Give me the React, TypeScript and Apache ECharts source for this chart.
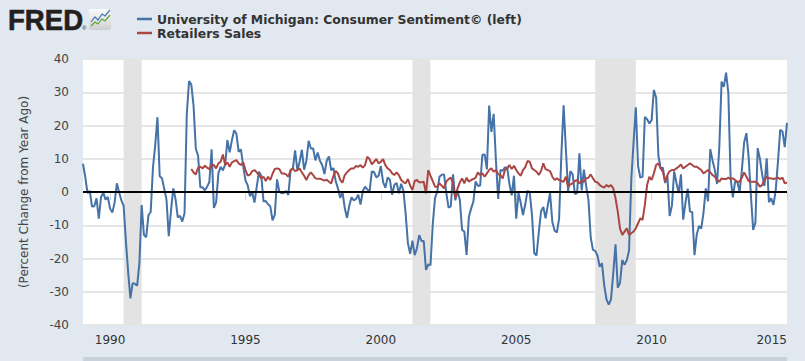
import React, { useEffect, useRef } from 'react';
import * as echarts from 'echarts';

// Monthly data, first value = January of the start year
const SENTIMENT_START_YEAR = 1989;
const RETAIL_START_YEAR = 1993;

const sentimentValues = [
  8.5, 4.5, -0.3, 0.3, -4.4, -4.3, -1.9, -8.0, -1.5, -0.2, -2.3, -1.5,
  -5.0, -6.2, -3.2, 2.6, -0.1, -2.5, -4.1, -14.7, -24.0, -32.0, -27.4, -27.6,
  -28.2, -21.3, -3.9, -12.9, -13.6, -7.0, -6.0, 7.3, 14.0, 22.5, 4.7, 4.1,
  1.0, -2.3, -13.3, -5.6, 1.1, -2.1, -7.6, -7.2, -8.9, -6.4, 23.4, 33.4,
  32.3, 25.9, 13.0, 10.9, 1.4, 1.4, 0.5, 1.6, 3.0, 12.8, -4.8, -3.1,
  5.6, 7.6, 6.5, 8.2, 15.6, 11.9, 15.6, 18.6, 17.5, 12.1, 12.8, 7.8,
  3.5, 2.0, -1.3, -0.1, -3.2, 1.6, 6.1, 4.9, -2.8, -2.7, -3.7, -4.3,
  -8.5, -6.9, 3.8, 0.2, -0.4, -0.3, 0.3, -0.9, 6.5, 7.0, 12.5, 6.5,
  9.1, 12.7, 6.7, 9.4, 15.4, 13.1, 13.1, 9.5, 11.9, 9.4, 8.1, 5.4,
  9.4, 10.7, 6.5, 7.2, 3.2, 1.1, -1.8, 0.0, -4.8, -7.8, -4.2, -1.6,
  -2.5, -2.1, -0.8, -3.8, 0.3, 1.6, 0.8, 0.1, 6.2, 6.0, 4.4, 4.9,
  7.8, 3.0, 1.3, 4.4, 3.7, -0.8, 2.2, 2.7, -0.4, 2.5, 0.4, -6.6,
  -15.4, -18.6, -14.6, -19.0, -16.9, -13.0, -14.7, -14.7, -23.4, -21.8, -22.0, -9.8,
  -1.8, 0.1, 4.6, 5.2, 5.3, -0.2, -4.7, -4.3, 5.3, -2.5, 0.4, -2.4,
  -11.4, -11.9, -18.9, -7.5, -5.0, -2.9, 3.2, 1.9, 1.9, 11.2, 11.3, 6.8,
  26.0, 18.1, 23.5, 9.5, -2.1, 6.6, 6.4, 7.4, 7.4, 2.3, -1.0, 4.9,
  -8.0, -0.3, -3.3, -6.9, -3.7, 0.4, -0.2, -7.1, -18.4, -19.1, -12.1, -5.8,
  -4.5, -7.9, -4.0, -0.3, -9.0, -11.6, -12.2, -8.0, 11.1, 26.1, 12.9, 0.2,
  6.3, 5.3, -0.6, -0.3, 11.6, 0.5, 6.7, 1.7, -2.3, -13.6, -17.4, -17.7,
  -19.1, -22.5, -21.4, -28.1, -32.3, -33.9, -32.3, -24.5, -15.7, -28.8, -27.3, -20.4,
  -21.9, -20.5, -17.6, 4.0, 14.9, 25.5, 7.8, 4.3, 4.6, 22.6, 21.9, 20.6,
  21.6, 30.7, 28.4, 10.9, 7.1, 7.3, 2.7, 4.9, -7.2, -4.1, 6.2, 2.8,
  -0.3, 5.3, -8.3, -3.3, 1.0, -5.9, -6.0, -19.0, -12.8, -10.2, -11.0, -6.2,
  1.1, -2.8, 12.9, 9.5, 6.7, 2.4, 13.5, 33.2, 31.6, 35.9, 29.8, 4.3,
  -1.6, 3.1, 3.1, 0.0, 6.6, 14.9, 17.7, 10.5, -1.0, -11.4, -9.2, 13.2,
  10.0, 5.2, 1.8, 10.1, -3.1, -1.9, -3.9, 0.5, 9.2, 18.7, 18.2, 13.5,
  20.8,
];

const retailValues = [
  6.9, 5.9, 5.3, 7.3, 7.6, 7.1, 7.9, 7.3, 6.9, 8.1, 8.1, 7.1,
  8.6, 9.1, 11.3, 8.1, 8.9, 7.6, 8.9, 9.3, 9.6, 8.6, 8.1, 8.9,
  6.6, 4.9, 5.2, 6.3, 6.6, 5.9, 5.1, 4.1, 4.6, 3.3, 4.6, 3.6,
  5.5, 6.9, 7.1, 6.9, 5.6, 5.6, 5.3, 4.6, 6.6, 7.1, 6.3, 6.6,
  7.1, 5.9, 4.9, 3.6, 5.1, 5.9, 5.1, 4.1, 4.0, 4.0, 3.7, 3.4,
  3.7, 3.1, 2.6, 4.9, 6.3, 5.6, 3.6, 2.8, 5.1, 5.9, 6.6, 7.1,
  7.1, 7.8, 7.6, 8.1, 7.3, 8.1, 10.6, 9.9, 8.3, 9.1, 9.9, 8.6,
  9.1, 9.9, 8.1, 7.1, 6.6, 5.6, 5.1, 5.9, 5.1, 3.6, 3.0, 2.6,
  3.9, 1.9, 0.6, 3.3, 3.6, 2.9, 2.9, 3.1, -0.4, 6.6, 4.9, 3.3,
  1.6, 1.6, 2.6, 1.9, 1.1, 3.1, 3.9, 4.3, 2.6, -1.9, 1.1, 2.9,
  4.1, 2.6, 4.3, 3.1, 3.6, 3.9, 4.3, 5.9, 5.1, 5.6, 4.6, 5.6,
  6.6, 7.1, 6.1, 6.6, 5.3, 5.1, 4.1, 6.6, 7.1, 8.1, 6.9, 7.9,
  6.6, 5.6, 4.9, 6.6, 7.5, 9.3, 9.1, 7.1, 6.6, 6.1, 5.1, 6.3,
  8.6, 6.9, 6.6, 6.3, 4.6, 3.6, 4.1, 3.6, 3.3, 3.1, 4.6, 1.6,
  2.3, 2.6, 3.3, 3.6, 2.6, 3.3, 3.1, 4.1, 4.3, 5.3, 4.1, 3.1,
  2.9, 2.1, 1.6, 1.3, 2.1, 1.6, 2.1, 1.1, -1.9, -5.9, -11.0, -12.9,
  -11.9, -10.9, -12.9, -12.4, -11.9, -10.9, -9.4, -7.9, -8.4, -3.9, 2.1, 4.6,
  3.6, 5.6, 8.1, 8.6, 7.1, 6.1, 3.1, 5.1, 6.3, 6.6, 6.6, 7.1,
  7.6, 8.3, 7.1, 7.6, 8.1, 8.6, 8.1, 7.6, 7.6, 7.1, 6.6, 5.6,
  6.1, 6.6, 5.9, 5.1, 4.6, 3.6, 3.1, 4.1, 3.9, 3.9, 4.3, 3.9,
  4.1, 3.6, 3.1, 3.1, 4.3, 5.9, 4.6, 3.3, 3.1, 3.1, 3.1, 2.6,
  1.6, 2.1, 3.6, 4.6, 4.1, 4.1, 3.9, 4.1, 4.3, 3.9, 4.3, 2.6,
  2.9,
];

const yearTicks = [1990, 1995, 2000, 2005, 2010, 2015];
const yTicks = { min: -40, max: 40, interval: 10 };
// recessions as [start year, start month, end year, end month]
const recessions = [
  [1990, 7, 1991, 3],
  [2001, 3, 2001, 11],
  [2007, 12, 2009, 6],
];
const seriesNames = [
  'University of Michigan: Consumer Sentiment© (left)',
  'Retailers Sales',
];

const X_MIN = 1989;
const X_MAX = 2015;

const toPairs = (startYear: number, vals: number[]) =>
  vals.map((v, i) => [startYear + i / 12, v]);

export default function App() {
  const ref = useRef<HTMLDivElement>(null);
  useEffect(() => {
    if (!ref.current) return;
    const chart = echarts.init(ref.current, null, { renderer: 'svg' });
    const font = 'DejaVu Sans';
    chart.setOption({
      animation: false,
      backgroundColor: '#e1e8f0',
      grid: {
        left: 83,
        right: 18,
        top: 59,
        bottom: 36,
        show: true,
        backgroundColor: '#ffffff',
        borderWidth: 0,
      },
      legend: {
        data: seriesNames,
        orient: 'vertical',
        left: 132,
        top: 8,
        icon: 'rect',
        itemWidth: 15,
        itemHeight: 2.5,
        itemGap: 2,
        selectedMode: false,
        textStyle: {
          fontFamily: font,
          fontWeight: 'bold',
          fontSize: 12.4,
          color: '#333333',
        },
      },
      xAxis: {
        type: 'value',
        min: X_MIN,
        max: X_MAX,
        splitLine: { show: false },
        axisLine: { show: true, lineStyle: { color: '#ccd6eb', width: 1 } },
        axisTick: {
          show: true,
          customValues: yearTicks,
          length: 8,
          lineStyle: { color: '#ccd6eb' },
        },
        axisLabel: {
          customValues: yearTicks,
          formatter: (v: number) => String(Math.round(v)),
          fontFamily: font,
          fontSize: 12,
          color: '#333333',
          margin: 9,
          alignMaxLabel: 'right',
        },
      },
      yAxis: {
        type: 'value',
        min: yTicks.min,
        max: yTicks.max,
        interval: yTicks.interval,
        name: '(Percent Change from Year Ago)',
        nameLocation: 'middle',
        nameGap: 53,
        nameTextStyle: { fontFamily: font, fontSize: 12, color: '#444444' },
        axisLine: { show: false },
        axisTick: { show: false },
        splitLine: { show: true, lineStyle: { color: '#e6e6e6', width: 2 } },
        axisLabel: {
          fontFamily: font,
          fontSize: 12,
          color: '#444444',
          margin: 14,
        },
      },
      series: [
        {
          name: 'shading',
          type: 'line',
          data: [],
          z: 1,
          silent: true,
          markArea: {
            silent: true,
            itemStyle: { color: '#e3e3e3' },
            data: recessions.map(([sy, sm, ey, em]) => [
              { xAxis: sy + (sm - 1) / 12 },
              { xAxis: ey + (em - 1) / 12 },
            ]),
          },
        },
        {
          name: seriesNames[0],
          type: 'line',
          data: toPairs(SENTIMENT_START_YEAR, sentimentValues),
          showSymbol: false,
          symbol: 'none',
          z: 3,
          lineStyle: { color: '#4572a7', width: 2 },
          itemStyle: { color: '#4572a7' },
        },
        {
          name: seriesNames[1],
          type: 'line',
          data: toPairs(RETAIL_START_YEAR, retailValues),
          showSymbol: false,
          symbol: 'none',
          z: 4,
          lineStyle: { color: '#aa4643', width: 2 },
          itemStyle: { color: '#aa4643' },
        },
        {
          name: 'zero',
          type: 'line',
          data: [],
          z: 5,
          silent: true,
          markLine: {
            silent: true,
            symbol: ['none', 'none'],
            label: { show: false },
            lineStyle: { color: '#000000', width: 2, type: 'solid' },
            data: [{ yAxis: 0 }],
          },
        },
      ],
      graphic: [
        {
          type: 'text',
          x: 8,
          y: 5,
          scaleX: 0.92,
          style: {
            text: 'FRED',
            font: '900 30px "Liberation Sans"',
            fill: '#231f20',
            stroke: '#231f20',
            lineWidth: 0.6,
          },
        },
        {
          type: 'text',
          left: 82,
          top: 25,
          style: { text: '®', font: '6px "Liberation Sans"', fill: '#231f20' },
        },
        {
          type: 'rect',
          shape: { x: 89, y: 9, width: 22, height: 21, r: 2 },
          style: {
            fill: new echarts.graphic.LinearGradient(0, 0, 0, 1, [
              { offset: 0, color: '#fbfbfb' },
              { offset: 1, color: '#cfcfcf' },
            ]),
          },
        },
        {
          type: 'polyline',
          shape: {
            points: [[91, 22], [95, 17], [98, 20], [102, 14], [105, 16], [110, 10]],
          },
          style: { stroke: '#3f77b8', lineWidth: 1.2, fill: 'none' },
        },
        {
          type: 'polyline',
          shape: {
            points: [[91, 26], [95, 22], [98, 24], [102, 19], [105, 21], [110, 15]],
          },
          style: { stroke: '#5aa53a', lineWidth: 1.2, fill: 'none' },
        },
        {
          type: 'rect',
          shape: { x: 83, y: 357, width: 704, height: 4 },
          style: { fill: '#c9d2db' },
        },
      ],
    });
    return () => chart.dispose();
  }, []);
  return (
    <div
      ref={ref}
      style={{ position: 'fixed', left: 0, top: 0, width: 805, height: 361 }}
    />
  );
}
